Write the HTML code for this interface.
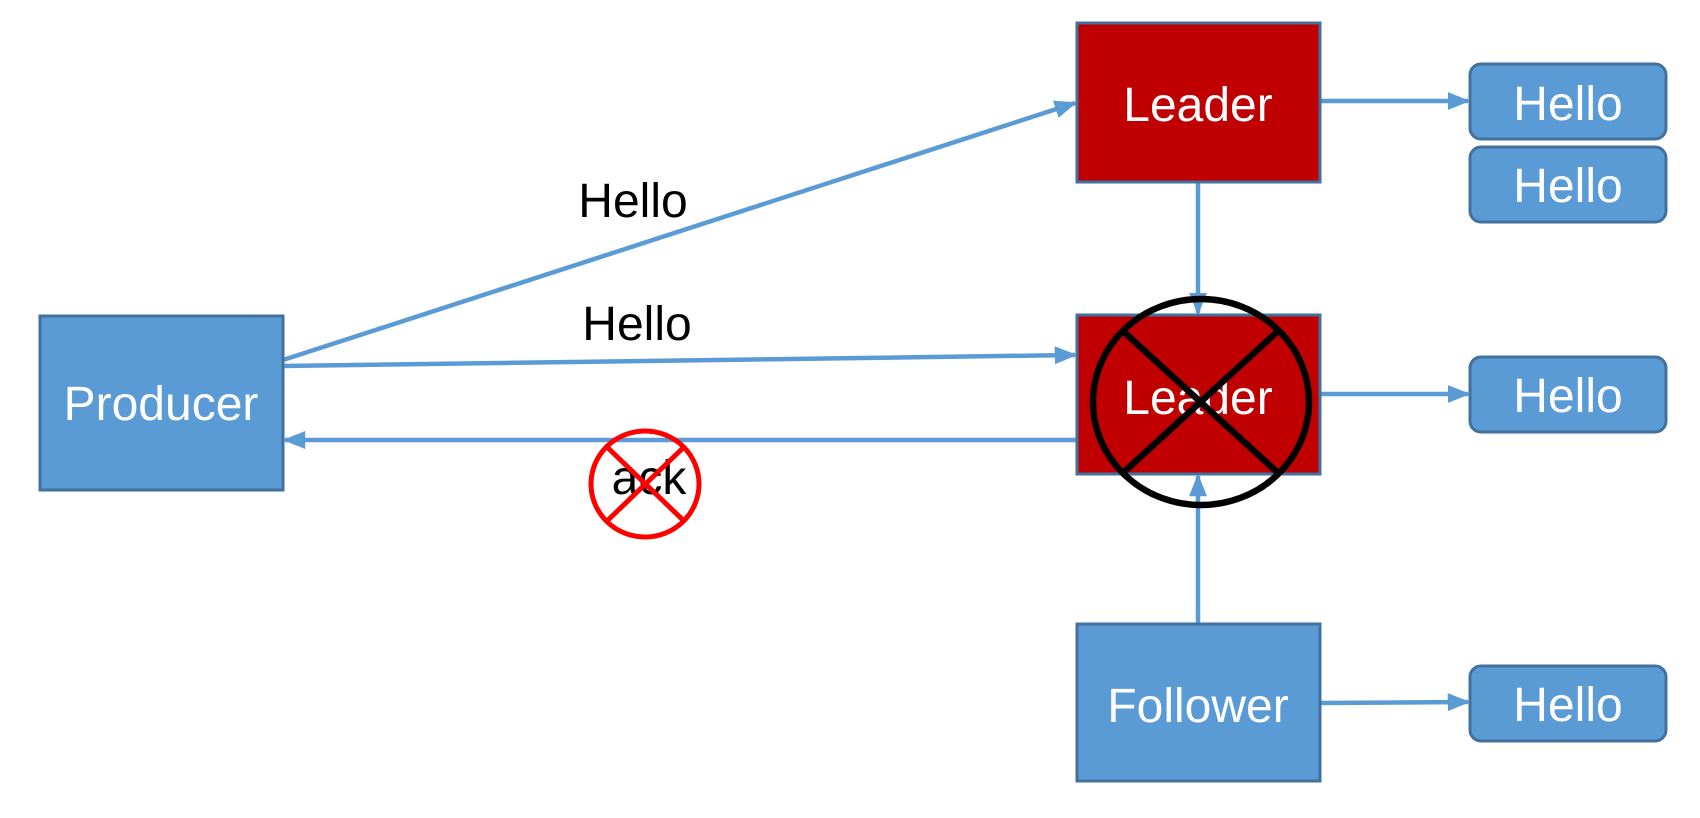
<!DOCTYPE html>
<html><head><style>
html,body{margin:0;padding:0;background:#fff;}
</style></head><body>
<svg width="1700" height="813" viewBox="0 0 1700 813" xmlns="http://www.w3.org/2000/svg" font-family="Liberation Sans, Arial, sans-serif">
<defs>
<marker id="a" markerWidth="5" markerHeight="4" refX="4.5" refY="2" orient="auto" markerUnits="strokeWidth">
<path d="M0,0 L5,2 L0,4 z" fill="#5B9BD5"/>
</marker>
</defs>
<g stroke="#5B9BD5" stroke-width="4.5" fill="none">
<line x1="283" y1="360" x2="1075" y2="103" marker-end="url(#a)"/>
<line x1="283" y1="366" x2="1075" y2="355" marker-end="url(#a)"/>
<line x1="1077" y1="440" x2="285" y2="440" marker-end="url(#a)"/>
<line x1="1320" y1="101" x2="1468" y2="101" marker-end="url(#a)"/>
<line x1="1320" y1="394" x2="1468" y2="394" marker-end="url(#a)"/>
<line x1="1320" y1="703" x2="1468" y2="702" marker-end="url(#a)"/>
<line x1="1198" y1="182" x2="1198" y2="313" marker-end="url(#a)"/>
<line x1="1198" y1="624" x2="1198" y2="476" marker-end="url(#a)"/>
</g>
<g stroke="#41719C" stroke-width="3">
<rect x="40" y="316" width="243" height="174" fill="#5B9BD5"/>
<rect x="1077" y="23" width="243" height="159" fill="#C00000"/>
<rect x="1077" y="315" width="243" height="159" fill="#C00000"/>
<rect x="1077" y="624" width="243" height="157" fill="#5B9BD5"/>
<rect x="1470" y="64" width="196" height="75" rx="11" fill="#5B9BD5"/>
<rect x="1470" y="147" width="196" height="75" rx="11" fill="#5B9BD5"/>
<rect x="1470" y="357" width="196" height="75" rx="11" fill="#5B9BD5"/>
<rect x="1470" y="666" width="196" height="75" rx="11" fill="#5B9BD5"/>
</g>
<g font-size="48" fill="#fff" text-anchor="middle">
<text x="161" y="420">Producer</text>
<text x="1198" y="121">Leader</text>
<text x="1198" y="414">Leader</text>
<text x="1198" y="722">Follower</text>
<text x="1568" y="120">Hello</text>
<text x="1568" y="202">Hello</text>
<text x="1568" y="412">Hello</text>
<text x="1568" y="721">Hello</text>
</g>
<g font-size="48" fill="#000" text-anchor="middle">
<text x="633" y="217">Hello</text>
<text x="637" y="340">Hello</text>
<text x="649" y="494">ack</text>
</g>
<g stroke="#000" stroke-width="6.5" fill="none">
<ellipse cx="1201" cy="402" rx="108" ry="103"/>
<line x1="1124" y1="332" x2="1277" y2="472"/>
<line x1="1277" y1="332" x2="1124" y2="472"/>
</g>
<g stroke="#FF0000" stroke-width="5" fill="none">
<ellipse cx="645" cy="484" rx="54" ry="53"/>
<line x1="607" y1="447" x2="684" y2="521"/>
<line x1="684" y1="447" x2="607" y2="521"/>
</g>
</svg>
</body></html>
